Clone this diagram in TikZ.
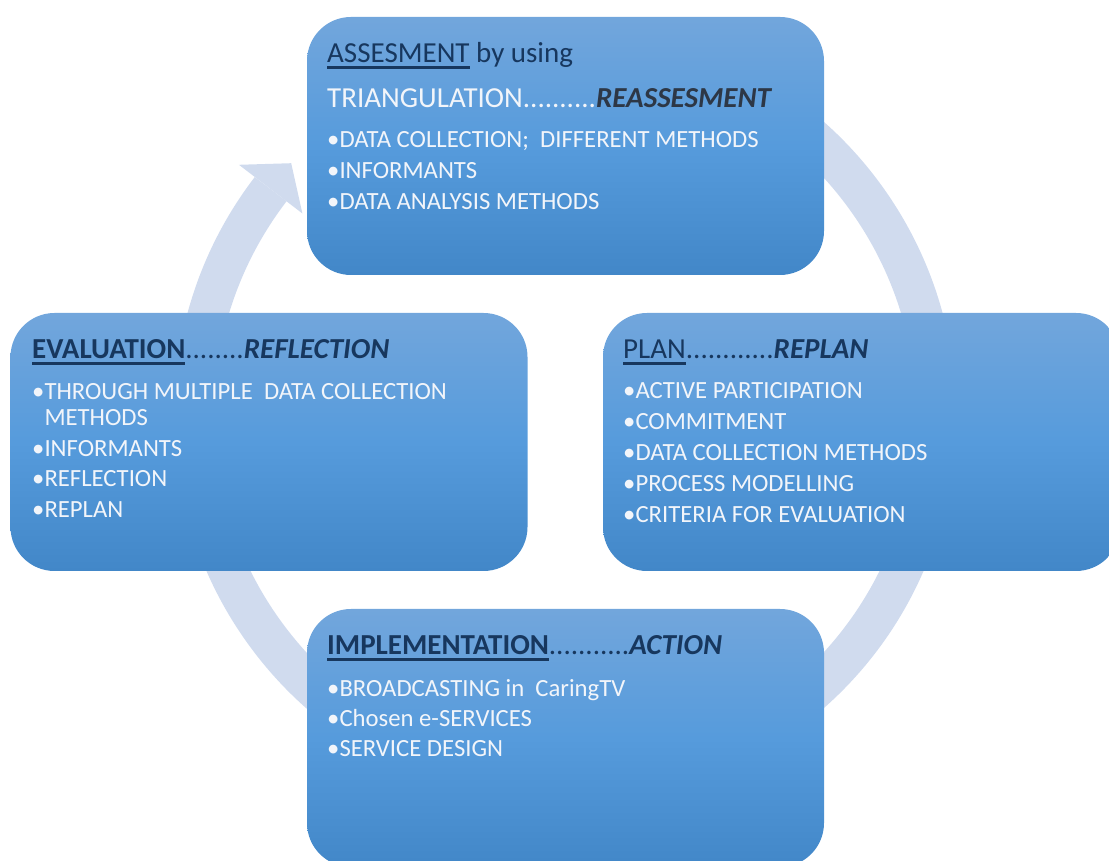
\documentclass[tikz,border=0pt]{standalone}
\usepackage{fontspec}
\setmainfont{Carlito}
\usetikzlibrary{calc}
\definecolor{ringc}{RGB}{208,219,238}
\definecolor{boxtop}{RGB}{114,166,220}
\definecolor{boxmid}{RGB}{86,155,220}
\definecolor{boxbot}{RGB}{66,135,200}
\definecolor{navy}{RGB}{23,55,94}
\definecolor{slate}{RGB}{45,55,70}
\definecolor{wtext}{RGB}{242,245,250}
\newcommand\ulin[1]{\setbox0\hbox{\color{navy}#1}\rlap{\color{navy}\rule[-6pt]{\wd0}{2.8pt}}\box0\relax}
\begin{document}
\begin{tikzpicture}[x=1pt,y=1pt,
 box/.style={rounded corners=44pt, minimum width=517pt, minimum height=258pt, top color=boxtop, bottom color=boxbot, middle color=boxmid, inner sep=0pt, draw=none},
 ttl/.style={anchor=base west, inner sep=0pt, font=\fontsize{29}{32}\selectfont, text=wtext},
 itm/.style={anchor=base west, inner sep=0pt, font=\fontsize{24.7}{28}\selectfont, text=wtext}]
\useasboundingbox (0,0) rectangle (1109,861);
\clip (0,0) rectangle (1109,861);
\coordinate (ctr) at (565,446);
\draw[ringc, line width=40pt] ($(ctr)+(125:371)$) arc[start angle=125, end angle=-217.5, radius=371pt];
\fill[ringc] ($(ctr)+(142.5:331)$) -- ($(ctr)+(142.5:411)$) -- ($(ctr)+(137.4:372)$) -- cycle;
% boxes
\node[box] (top) at (565.5,715) {};
\node[box] (left) at (269,419) {};
\node[box] (right) at (861.5,419) {};
\node[box] (bottom) at (565.5,123) {};
% top texts
\node[ttl] (a1) at (327,798) {\ulin{ASSESMENT} by using};
\node[ttl] (a2) at (327,753) {TRIANGULATION..........\textcolor{slate}{\bfseries\itshape REASSESMENT}};
\node[itm] (a3) at (327,713) {•DATA COLLECTION;\ \ DIFFERENT METHODS};
\node[itm] (a4) at (327,682) {•INFORMANTS};
\node[itm] (a5) at (327,651) {•DATA ANALYSIS METHODS};
% left texts
\node[ttl] (e1) at (32,502) {\ulin{\bfseries EVALUATION}........\textcolor{navy}{\bfseries\itshape REFLECTION}};
\node[itm] (e2) at (32,461) {•THROUGH MULTIPLE\ \ DATA COLLECTION};
\node[itm] (e3) at (32,435) {\hphantom{•}METHODS};
\node[itm] (e4) at (32,404) {•INFORMANTS};
\node[itm] (e5) at (32,374) {•REFLECTION};
\node[itm] (e6) at (32,343) {•REPLAN};
% right texts
\node[ttl] (p1) at (623,502) {\ulin{PLAN}............\textcolor{navy}{\bfseries\itshape REPLAN}};
\node[itm] (p2) at (623,462) {•ACTIVE PARTICIPATION};
\node[itm] (p3) at (623,431) {•COMMITMENT};
\node[itm] (p4) at (623,400) {•DATA COLLECTION METHODS};
\node[itm] (p5) at (623,369) {•PROCESS MODELLING};
\node[itm] (p6) at (623,338) {•CRITERIA FOR EVALUATION};
% bottom texts
\node[ttl] (i1) at (327,206) {\ulin{\bfseries IMPLEMENTATION}...........\textcolor{navy}{\bfseries\itshape ACTION}};
\node[itm] (i2) at (327,164) {•BROADCASTING in\ \ CaringTV};
\node[itm] (i3) at (327,134) {•Chosen e-SERVICES};
\node[itm] (i4) at (327,104) {•SERVICE DESIGN};
\end{tikzpicture}
\end{document}
